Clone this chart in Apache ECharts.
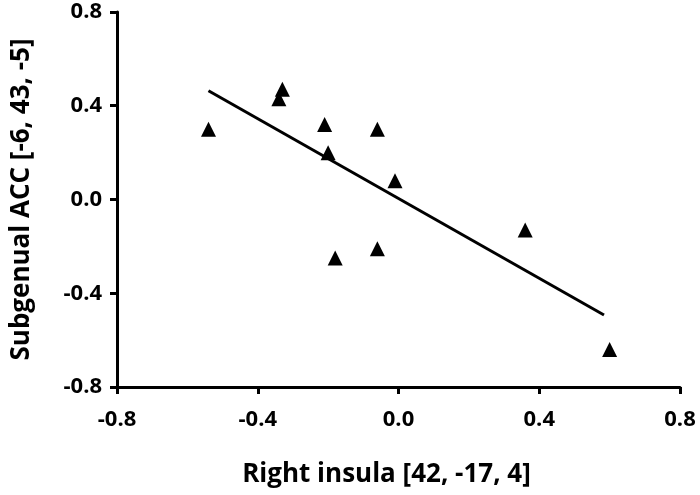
<!DOCTYPE html>
<html>
<head>
<meta charset="utf-8">
<script src="https://cdn.jsdelivr.net/npm/echarts@6/dist/echarts.min.js"></script>
<style>
  html, body { margin: 0; padding: 0; background: #fff; }
  #chart { width: 700px; height: 495px; }
</style>
</head>
<body>
<div id="chart"></div>
<script>
// scatter points: right insula (x) vs subgenual ACC (y)
const insula = [-0.54, -0.34, -0.33, -0.21, -0.20, -0.06, -0.01, -0.06, -0.18, 0.36, 0.60]
const acc = [0.30, 0.43, 0.47, 0.32, 0.20, 0.30, 0.08, -0.21, -0.25, -0.13, -0.64]
// fitted line end points
const fitX = [-0.54, 0.584]
const fitY = [0.464, -0.493]
const ticks = [-0.8, -0.4, 0.0, 0.4, 0.8]

const font = 'Open Sans'
const black = '#000'

const chart = echarts.init(document.getElementById('chart'))

const axisCommon = {
  type: 'value',
  min: ticks[0],
  max: ticks[ticks.length - 1],
  interval: 0.4,
  splitLine: { show: false },
  axisLine: { show: true, onZero: false, lineStyle: { color: black, width: 3 } },
  axisTick: { show: true, length: 7, lineStyle: { color: black, width: 3 } },
  axisLabel: {
    color: black,
    fontFamily: font,
    fontWeight: 'bold',
    fontSize: 22,
    formatter: v => v.toFixed(1)
  },
  nameLocation: 'middle',
  nameTextStyle: {
    color: black,
    fontFamily: font,
    fontWeight: 'bold',
    fontSize: 26
  }
}

chart.setOption({
  animation: false,
  grid: { left: 117, right: 20, top: 12, bottom: 108 },
  xAxis: Object.assign({}, axisCommon, {
    name: 'Right insula [42, -17, 4]',
    nameGap: 75,
    nameTextStyle: Object.assign({}, axisCommon.nameTextStyle, { padding: [0, 24, 0, 0] }),
    axisLabel: Object.assign({}, axisCommon.axisLabel, { margin: 22 })
  }),
  yAxis: Object.assign({}, axisCommon, {
    name: 'Subgenual ACC [-6, 43, -5]',
    nameGap: 82,
    axisLabel: Object.assign({}, axisCommon.axisLabel, { margin: 15 })
  }),
  series: [
    {
      type: 'line',
      data: fitX.map((x, i) => [x, fitY[i]]),
      symbol: 'none',
      lineStyle: { color: black, width: 3 },
      z: 1
    },
    {
      type: 'scatter',
      data: insula.map((x, i) => [x, acc[i]]),
      symbol: 'triangle',
      symbolSize: 15,
      itemStyle: { color: black, opacity: 1 },
      z: 2
    }
  ]
})
</script>
</body>
</html>
